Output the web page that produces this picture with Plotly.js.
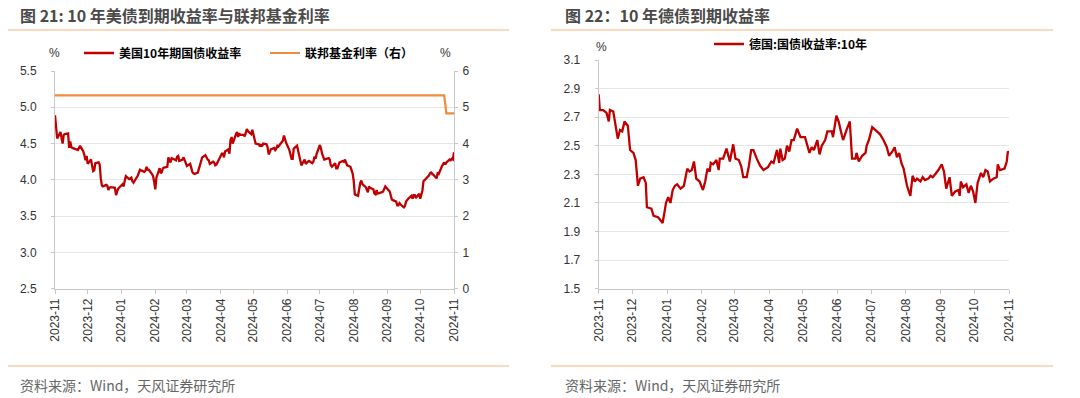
<!DOCTYPE html>
<html>
<head>
<meta charset="utf-8">
<script src="https://cdn.plot.ly/plotly-3.0.1.min.js"></script>
<style>
html,body{margin:0;padding:0;background:#fff;}
#chart{width:1080px;height:398px;}
</style>
</head>
<body>
<div id="chart"></div>
<script>
// ---- Data: US 10Y Treasury yield (%) ----
const usDates = ["2023-11-01","2023-11-02","2023-11-03","2023-11-06","2023-11-07","2023-11-08","2023-11-09","2023-11-10","2023-11-13","2023-11-14","2023-11-15","2023-11-16","2023-11-17","2023-11-20","2023-11-22","2023-11-24","2023-11-27","2023-11-28","2023-11-29","2023-11-30",
"2023-12-01","2023-12-04","2023-12-05","2023-12-06","2023-12-07","2023-12-08","2023-12-11","2023-12-12","2023-12-13","2023-12-14","2023-12-15","2023-12-18","2023-12-19","2023-12-20","2023-12-21","2023-12-22","2023-12-26","2023-12-27","2023-12-28","2023-12-29",
"2024-01-02","2024-01-03","2024-01-04","2024-01-05","2024-01-08","2024-01-09","2024-01-10","2024-01-11","2024-01-12","2024-01-16","2024-01-17","2024-01-18","2024-01-19","2024-01-22","2024-01-23","2024-01-24","2024-01-25","2024-01-26","2024-01-29","2024-01-30","2024-01-31",
"2024-02-01","2024-02-02","2024-02-05","2024-02-06","2024-02-07","2024-02-08","2024-02-09","2024-02-12","2024-02-13","2024-02-14","2024-02-15","2024-02-16","2024-02-20","2024-02-21","2024-02-22","2024-02-23","2024-02-26","2024-02-27","2024-02-28","2024-02-29",
"2024-03-01","2024-03-04","2024-03-05","2024-03-06","2024-03-07","2024-03-08","2024-03-11","2024-03-12","2024-03-13","2024-03-14","2024-03-15","2024-03-18","2024-03-19","2024-03-20","2024-03-21","2024-03-22","2024-03-25","2024-03-26","2024-03-27","2024-03-28",
"2024-04-01","2024-04-02","2024-04-03","2024-04-04","2024-04-05","2024-04-08","2024-04-09","2024-04-10","2024-04-11","2024-04-12","2024-04-15","2024-04-16","2024-04-17","2024-04-18","2024-04-19","2024-04-22","2024-04-23","2024-04-24","2024-04-25","2024-04-26","2024-04-29","2024-04-30",
"2024-05-01","2024-05-02","2024-05-03","2024-05-06","2024-05-07","2024-05-08","2024-05-09","2024-05-10","2024-05-13","2024-05-14","2024-05-15","2024-05-16","2024-05-17","2024-05-20","2024-05-21","2024-05-22","2024-05-23","2024-05-24","2024-05-28","2024-05-29","2024-05-30","2024-05-31",
"2024-06-03","2024-06-04","2024-06-05","2024-06-06","2024-06-07","2024-06-10","2024-06-11","2024-06-12","2024-06-13","2024-06-14","2024-06-17","2024-06-18","2024-06-20","2024-06-21","2024-06-24","2024-06-25","2024-06-26","2024-06-27","2024-06-28",
"2024-07-01","2024-07-02","2024-07-03","2024-07-05","2024-07-08","2024-07-09","2024-07-10","2024-07-11","2024-07-12","2024-07-15","2024-07-16","2024-07-17","2024-07-18","2024-07-19","2024-07-22","2024-07-23","2024-07-24","2024-07-25","2024-07-26","2024-07-29","2024-07-30","2024-07-31",
"2024-08-01","2024-08-02","2024-08-05","2024-08-06","2024-08-07","2024-08-08","2024-08-09","2024-08-12","2024-08-13","2024-08-14","2024-08-15","2024-08-16","2024-08-19","2024-08-20","2024-08-21","2024-08-22","2024-08-23","2024-08-26","2024-08-27","2024-08-28","2024-08-29","2024-08-30",
"2024-09-03","2024-09-04","2024-09-05","2024-09-06","2024-09-09","2024-09-10","2024-09-11","2024-09-12","2024-09-13","2024-09-16","2024-09-17","2024-09-18","2024-09-19","2024-09-20","2024-09-23","2024-09-24","2024-09-25","2024-09-26","2024-09-27","2024-09-30",
"2024-10-01","2024-10-02","2024-10-03","2024-10-04","2024-10-07","2024-10-08","2024-10-09","2024-10-10","2024-10-11","2024-10-15","2024-10-16","2024-10-17","2024-10-18","2024-10-21","2024-10-22","2024-10-23","2024-10-24","2024-10-25","2024-10-28","2024-10-29","2024-10-30","2024-10-31","2024-11-01"];
const usYield = [4.89,4.67,4.57,4.66,4.57,4.50,4.62,4.63,4.64,4.44,4.53,4.45,4.44,4.42,4.41,4.47,4.39,4.34,4.27,4.33,
4.22,4.28,4.17,4.12,4.13,4.23,4.24,4.21,4.02,3.92,3.91,3.93,3.92,3.86,3.89,3.90,3.89,3.79,3.84,3.88,
3.94,3.91,3.99,4.05,4.01,4.02,4.03,3.98,3.96,4.06,4.10,4.14,4.13,4.11,4.13,4.18,4.14,4.14,4.08,4.05,3.97,
3.87,4.03,4.16,4.09,4.11,4.16,4.17,4.18,4.31,4.27,4.24,4.30,4.27,4.32,4.33,4.26,4.28,4.31,4.27,4.25,
4.19,4.22,4.14,4.11,4.09,4.08,4.10,4.16,4.19,4.29,4.31,4.34,4.30,4.28,4.27,4.22,4.25,4.24,4.20,4.21,
4.33,4.36,4.36,4.31,4.39,4.42,4.36,4.55,4.59,4.50,4.63,4.66,4.59,4.64,4.62,4.62,4.60,4.65,4.70,4.67,4.63,4.69,
4.63,4.58,4.50,4.49,4.46,4.49,4.46,4.50,4.49,4.45,4.35,4.38,4.42,4.44,4.41,4.43,4.47,4.46,4.54,4.61,4.55,4.51,
4.41,4.33,4.29,4.29,4.43,4.47,4.40,4.31,4.24,4.20,4.28,4.22,4.25,4.26,4.23,4.25,4.32,4.29,4.36,
4.48,4.43,4.36,4.28,4.30,4.30,4.28,4.20,4.18,4.23,4.16,4.16,4.20,4.24,4.26,4.25,4.28,4.25,4.20,4.18,4.14,4.09,
3.99,3.80,3.78,3.90,3.96,3.99,3.94,3.90,3.85,3.83,3.91,3.89,3.87,3.81,3.80,3.86,3.81,3.82,3.83,3.84,3.87,3.91,
3.84,3.77,3.73,3.72,3.70,3.65,3.65,3.68,3.66,3.62,3.64,3.70,3.73,3.74,3.78,3.74,3.79,3.79,3.75,3.81,
3.74,3.79,3.85,3.98,4.03,4.04,4.06,4.09,4.10,4.04,4.02,4.09,4.08,4.19,4.21,4.24,4.21,4.24,4.28,4.27,4.29,4.28,4.38];

// ---- Data: Fed funds rate (%, right axis) ----
const fedDates = ["2023-11-01","2024-10-23","2024-10-25","2024-11-01"];
const fedRate = [5.33,5.33,4.83,4.83];

// ---- Data: German 10Y Bund yield (%) ----
const deDates = ["2023-11-01","2023-11-02","2023-11-05","2023-11-08","2023-11-10","2023-11-11","2023-11-14","2023-11-16","2023-11-18","2023-11-20","2023-11-22","2023-11-24","2023-11-27","2023-11-29",
"2023-12-02","2023-12-04","2023-12-06","2023-12-08","2023-12-11","2023-12-13","2023-12-14","2023-12-18","2023-12-20","2023-12-24","2023-12-28","2023-12-30","2023-12-31",
"2024-01-02","2024-01-04","2024-01-06","2024-01-08","2024-01-10","2024-01-13","2024-01-16","2024-01-19","2024-01-21","2024-01-23","2024-01-25","2024-01-27","2024-01-30",
"2024-02-02","2024-02-04","2024-02-06","2024-02-08","2024-02-09","2024-02-11","2024-02-14","2024-02-16","2024-02-17","2024-02-20","2024-02-23","2024-02-26","2024-02-29",
"2024-03-02","2024-03-05","2024-03-07","2024-03-09","2024-03-12","2024-03-14","2024-03-16","2024-03-18","2024-03-21","2024-03-24","2024-03-27","2024-03-31",
"2024-04-03","2024-04-05","2024-04-08","2024-04-10","2024-04-11","2024-04-13","2024-04-15","2024-04-17","2024-04-19","2024-04-21","2024-04-23","2024-04-26","2024-04-29",
"2024-05-03","2024-05-07","2024-05-09","2024-05-11","2024-05-14","2024-05-16","2024-05-18","2024-05-21","2024-05-23","2024-05-27","2024-05-28","2024-05-31",
"2024-06-02","2024-06-05","2024-06-06","2024-06-09","2024-06-12","2024-06-14","2024-06-17","2024-06-18","2024-06-20","2024-06-23","2024-06-26","2024-06-27","2024-06-29",
"2024-07-02","2024-07-06","2024-07-09","2024-07-12","2024-07-15","2024-07-17","2024-07-20","2024-07-22","2024-07-24","2024-07-26","2024-07-28","2024-07-30",
"2024-08-02","2024-08-05","2024-08-07","2024-08-09","2024-08-11","2024-08-14","2024-08-16","2024-08-18","2024-08-21","2024-08-23","2024-08-25","2024-08-28","2024-08-30",
"2024-09-02","2024-09-04","2024-09-06","2024-09-09","2024-09-11","2024-09-14","2024-09-17","2024-09-18","2024-09-19","2024-09-21","2024-09-24","2024-09-26","2024-09-28","2024-09-30",
"2024-10-02","2024-10-04","2024-10-07","2024-10-09","2024-10-11","2024-10-13","2024-10-15","2024-10-18","2024-10-21","2024-10-22","2024-10-24","2024-10-28","2024-10-30","2024-10-31","2024-11-01"];
const deYield = [2.86,2.75,2.75,2.73,2.67,2.75,2.74,2.64,2.55,2.61,2.60,2.67,2.64,2.47,
2.45,2.40,2.22,2.27,2.28,2.24,2.07,2.06,2.01,2.00,1.96,2.05,2.10,
2.14,2.10,2.19,2.22,2.23,2.20,2.22,2.34,2.32,2.33,2.39,2.27,2.25,
2.19,2.25,2.34,2.32,2.38,2.37,2.40,2.33,2.41,2.41,2.48,2.39,2.51,
2.41,2.40,2.36,2.28,2.28,2.36,2.47,2.47,2.41,2.36,2.33,2.35,
2.39,2.38,2.47,2.38,2.48,2.40,2.41,2.50,2.46,2.54,2.54,2.62,2.56,
2.56,2.45,2.49,2.47,2.54,2.44,2.50,2.54,2.60,2.60,2.56,2.71,
2.67,2.57,2.54,2.61,2.67,2.41,2.41,2.45,2.39,2.43,2.45,2.50,2.54,
2.63,2.60,2.58,2.54,2.49,2.43,2.46,2.49,2.42,2.45,2.38,2.34,
2.22,2.15,2.29,2.25,2.27,2.25,2.28,2.26,2.27,2.29,2.28,2.31,2.33,
2.37,2.32,2.20,2.28,2.15,2.18,2.19,2.15,2.25,2.21,2.23,2.17,2.22,2.18,
2.10,2.24,2.31,2.28,2.33,2.32,2.25,2.27,2.28,2.37,2.33,2.34,2.39,2.46,2.45];

// ---- Text ----
const titleLeft = "图 21: 10 年美债到期收益率与联邦基金利率";
const titleRight = "图 22：10 年德债到期收益率";
const sourceText = "资料来源：Wind，天风证券研究所";
const nameUS = "美国10年期国债收益率";
const nameFed = "联邦基金利率（右）";
const nameDE = "德国:国债收益率:10年";

const W = 1080, H = 398;
const px = v => v / W;
const py = v => 1 - v / H;

const FONT = "Liberation Sans, Arial, Noto Sans CJK SC, sans-serif";
const CJK = "Noto Sans CJK SC, Liberation Sans, sans-serif";
const RED = "#C00000", ORANGE = "#F08A3C", SEP = "#F7B47E";
const GRID = "#e6e6e6", AXIS = "#c8c8c8";

const traces = [
  {x: usDates, y: usYield, name: nameUS, type: "scatter", mode: "lines",
   line: {color: RED, width: 2.3}, xaxis: "x", yaxis: "y", legend: "legend"},
  {x: fedDates, y: fedRate, name: nameFed, type: "scatter", mode: "lines",
   line: {color: ORANGE, width: 2.2}, xaxis: "x", yaxis: "y2", legend: "legend"},
  {x: deDates, y: deYield, name: nameDE, type: "scatter", mode: "lines",
   line: {color: RED, width: 2.3}, xaxis: "x2", yaxis: "y3", legend: "legend2"}
];

const xCommon = {
  type: "date", dtick: "M1", tick0: "2023-11-01", tickformat: "%Y-%m",
  tickangle: -90, showgrid: false, zeroline: false,
  showline: true, linecolor: AXIS, linewidth: 1,
  ticks: "outside", ticklen: 4, tickcolor: AXIS,
  tickfont: {family: FONT, size: 12, color: "#333"},
  range: ["2023-11-01", "2024-11-01"], fixedrange: true
};
const yCommon = {
  showgrid: true, gridcolor: GRID, gridwidth: 1, zeroline: false,
  showline: true, linecolor: AXIS, linewidth: 1,
  ticks: "outside", ticklen: 3, tickcolor: AXIS,
  tickfont: {family: FONT, size: 12, color: "#333"}, fixedrange: true
};

const layout = {
  width: W, height: H,
  margin: {l: 0, r: 0, t: 0, b: 0},
  paper_bgcolor: "#fff", plot_bgcolor: "#fff",
  showlegend: true,
  xaxis: Object.assign({}, xCommon, {domain: [px(55), px(454)], anchor: "y"}),
  yaxis: Object.assign({}, yCommon, {domain: [py(288.7), py(71)], anchor: "x",
    range: [2.5, 5.5], dtick: 0.5, tick0: 2.5, tickformat: ".1f", ticklabelstandoff: 12}),
  yaxis2: Object.assign({}, yCommon, {overlaying: "y", side: "right", anchor: "x",
    range: [0, 6], dtick: 1, tick0: 0, showgrid: false, ticklabelstandoff: 2}),
  xaxis2: Object.assign({}, xCommon, {domain: [px(598.7), px(1009)], anchor: "y3"}),
  yaxis3: Object.assign({}, yCommon, {domain: [py(288.7), py(60)], anchor: "x2",
    range: [1.5, 3.1], dtick: 0.2, tick0: 1.5, tickformat: ".1f", ticklabelstandoff: 12}),
  legend: {orientation: "h", x: px(79), y: py(53), xanchor: "left", yanchor: "middle",
    entrywidth: 141, entrywidthmode: "pixels", itemwidth: 30,
    font: {family: CJK, size: 12, color: "#000", weight: "bold"}, bgcolor: "rgba(0,0,0,0)"},
  legend2: {orientation: "h", x: px(709), y: py(44), xanchor: "left", yanchor: "middle",
    itemwidth: 30,
    font: {family: CJK, size: 12, color: "#000", weight: "bold"}, bgcolor: "rgba(0,0,0,0)"},
  shapes: [
    {type: "line", xref: "paper", yref: "paper", x0: px(8), x1: px(509), y0: py(30), y1: py(30), line: {color: SEP, width: 1.2}},
    {type: "line", xref: "paper", yref: "paper", x0: px(551), x1: px(1053), y0: py(30), y1: py(30), line: {color: SEP, width: 1.2}},
    {type: "line", xref: "paper", yref: "paper", x0: px(8), x1: px(509), y0: py(366), y1: py(366), line: {color: SEP, width: 1.2}},
    {type: "line", xref: "paper", yref: "paper", x0: px(551), x1: px(1053), y0: py(366), y1: py(366), line: {color: SEP, width: 1.2}}
  ],
  annotations: [
    {text: titleLeft, xref: "paper", yref: "paper", x: px(18), y: py(15), xanchor: "left", yanchor: "middle", showarrow: false,
     font: {family: CJK, size: 16, color: "#4a4a4a", weight: "bold"}},
    {text: titleRight, xref: "paper", yref: "paper", x: px(563), y: py(15), xanchor: "left", yanchor: "middle", showarrow: false,
     font: {family: CJK, size: 16, color: "#4a4a4a", weight: "bold"}},
    {text: sourceText, xref: "paper", yref: "paper", x: px(18), y: py(385), xanchor: "left", yanchor: "middle", showarrow: false,
     font: {family: CJK, size: 14, color: "#666"}},
    {text: sourceText, xref: "paper", yref: "paper", x: px(563), y: py(385), xanchor: "left", yanchor: "middle", showarrow: false,
     font: {family: CJK, size: 14, color: "#666"}},
    {text: "%", xref: "paper", yref: "paper", x: px(54), y: py(53), xanchor: "center", yanchor: "middle", showarrow: false,
     font: {family: FONT, size: 12, color: "#333"}},
    {text: "%", xref: "paper", yref: "paper", x: px(445), y: py(53), xanchor: "center", yanchor: "middle", showarrow: false,
     font: {family: FONT, size: 12, color: "#333"}},
    {text: "%", xref: "paper", yref: "paper", x: px(601), y: py(47), xanchor: "center", yanchor: "middle", showarrow: false,
     font: {family: FONT, size: 12, color: "#333"}}
  ]
};

Plotly.newPlot("chart", traces, layout, {staticPlot: true, displayModeBar: false});
</script>
</body>
</html>
